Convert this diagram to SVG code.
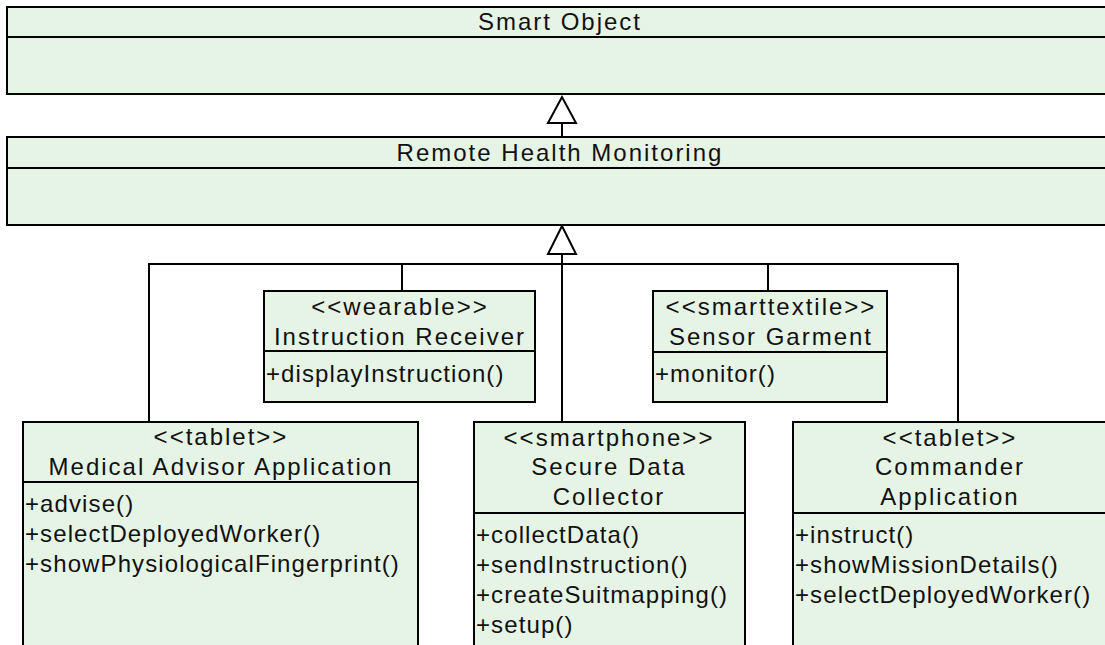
<svg xmlns="http://www.w3.org/2000/svg" width="1105" height="645" viewBox="0 0 1105 645">
<style>
.box{fill:#e6f4e6;stroke:#000;stroke-width:2}
.sep{stroke:#000;stroke-width:2}
.t{font-family:"Liberation Sans",Arial,sans-serif;font-size:24px;fill:#111;text-anchor:middle;letter-spacing:2px}
.m{font-family:"Liberation Sans",Arial,sans-serif;font-size:24px;fill:#111;letter-spacing:1.1px}
.c{fill:none;stroke:#000;stroke-width:2}
.h{fill:#fff;stroke:#000;stroke-width:2}
</style>
<rect width="1105" height="645" fill="#fff"/>
<g id="connectors">
<line class="c" x1="562" y1="123" x2="562" y2="137"/>
<polygon class="h" points="562,97 548,123 576,123"/>
<line class="c" x1="562" y1="254" x2="562" y2="422"/>
<polyline class="c" points="149,422 149,264 958,264 958,422"/>
<line class="c" x1="402" y1="264" x2="402" y2="291"/>
<line class="c" x1="768" y1="264" x2="768" y2="291"/>
<polygon class="h" points="562,226 548,254 576,254"/>
</g>
<g id="smart-object">
<rect class="box" x="7" y="7" width="1105" height="87"/>
<line class="sep" x1="7" y1="37" x2="1112" y2="37"/>
<text class="t" x="560" y="30">Smart Object</text>
</g>
<g id="remote-health-monitoring">
<rect class="box" x="7" y="137" width="1105" height="88"/>
<line class="sep" x1="7" y1="168" x2="1112" y2="168"/>
<text class="t" x="560" y="161">Remote Health Monitoring</text>
</g>
<g id="instruction-receiver">
<rect class="box" x="264" y="291" width="271" height="111"/>
<line class="sep" x1="264" y1="351" x2="535" y2="351"/>
<text class="t" x="400" y="315">&lt;&lt;wearable&gt;&gt;</text>
<text class="t" x="400" y="345">Instruction Receiver</text>
<text class="m" x="266" y="382">+displayInstruction()</text>
</g>
<g id="sensor-garment">
<rect class="box" x="653" y="291" width="234" height="111"/>
<line class="sep" x1="653" y1="352" x2="887" y2="352"/>
<text class="t" x="771" y="315">&lt;&lt;smarttextile&gt;&gt;</text>
<text class="t" x="771" y="345">Sensor Garment</text>
<text class="m" x="655" y="382">+monitor()</text>
</g>
<g id="medical-advisor-application">
<rect class="box" x="23" y="422" width="395" height="240"/>
<line class="sep" x1="23" y1="482" x2="418" y2="482"/>
<text class="t" x="221" y="445">&lt;&lt;tablet&gt;&gt;</text>
<text class="t" x="221" y="475">Medical Advisor Application</text>
<text class="m" x="25" y="512">+advise()</text>
<text class="m" x="25" y="542">+selectDeployedWorker()</text>
<text class="m" x="25" y="572">+showPhysiologicalFingerprint()</text>
</g>
<g id="secure-data-collector">
<rect class="box" x="474" y="422" width="271" height="240"/>
<line class="sep" x1="474" y1="513" x2="745" y2="513"/>
<text class="t" x="609" y="446">&lt;&lt;smartphone&gt;&gt;</text>
<text class="t" x="609" y="475">Secure Data</text>
<text class="t" x="609" y="505">Collector</text>
<text class="m" x="476" y="543">+collectData()</text>
<text class="m" x="476" y="573">+sendInstruction()</text>
<text class="m" x="476" y="603">+createSuitmapping()</text>
<text class="m" x="476" y="633">+setup()</text>
</g>
<g id="commander-application">
<rect class="box" x="793" y="422" width="313" height="240"/>
<line class="sep" x1="793" y1="513" x2="1106" y2="513"/>
<text class="t" x="950" y="446">&lt;&lt;tablet&gt;&gt;</text>
<text class="t" x="950" y="475">Commander</text>
<text class="t" x="950" y="505">Application</text>
<text class="m" x="795" y="543">+instruct()</text>
<text class="m" x="795" y="573">+showMissionDetails()</text>
<text class="m" x="795" y="603">+selectDeployedWorker()</text>
</g>
</svg>
